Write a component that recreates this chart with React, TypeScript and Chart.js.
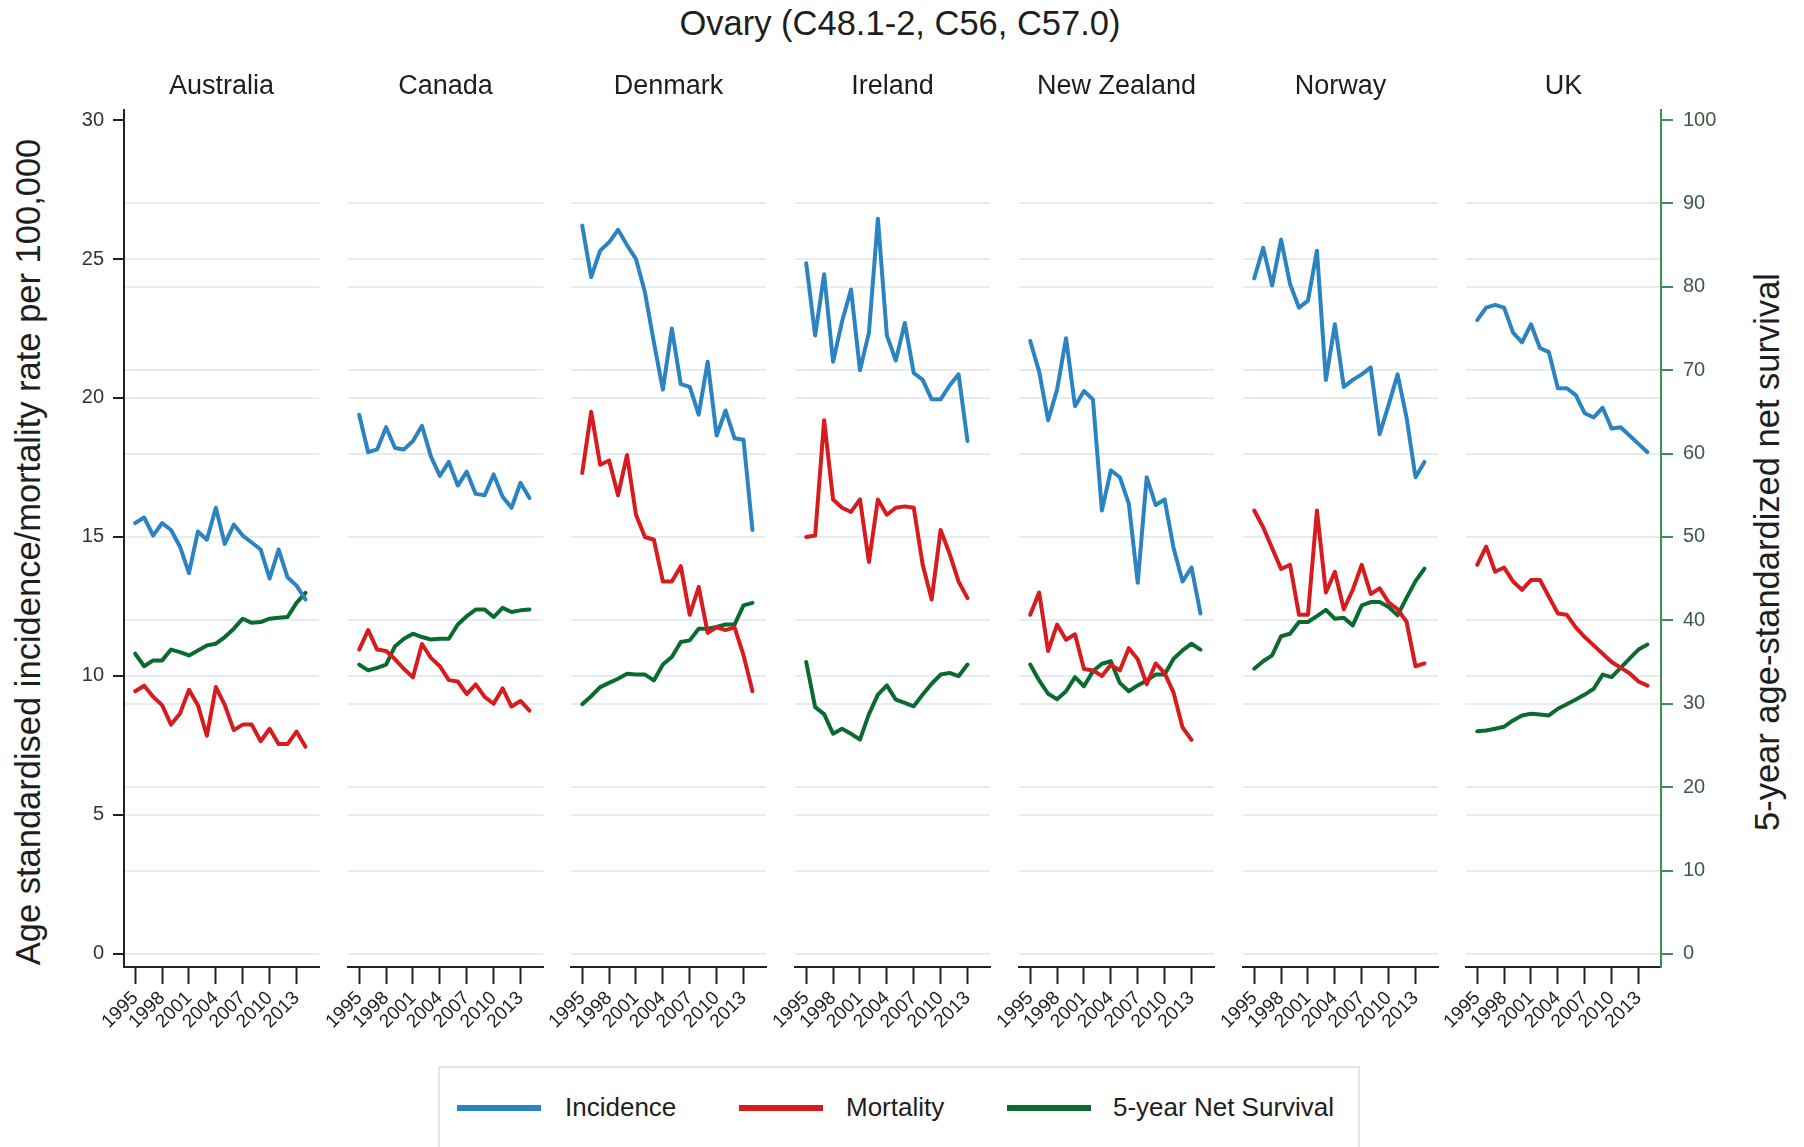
import React, { useEffect, useRef } from 'react';
import { Chart, registerables } from 'chart.js';

Chart.register(...registerables);

const FONT = '"Liberation Sans", Arial, Helvetica, sans-serif';

// ---------- data ----------
const years = [1995, 1996, 1997, 1998, 1999, 2000, 2001, 2002, 2003, 2004, 2005, 2006, 2007, 2008, 2009, 2010, 2011, 2012, 2013, 2014];
const xTickYears = [1995, 1998, 2001, 2004, 2007, 2010, 2013];
const rateTicks = [0, 5, 10, 15, 20, 25, 30];
const survivalTicks = [0, 10, 20, 30, 40, 50, 60, 70, 80, 90, 100];
const countries = ['Australia', 'Canada', 'Denmark', 'Ireland', 'New Zealand', 'Norway', 'UK'];

const ausInc = [15.5, 15.7, 15.05, 15.5, 15.25, 14.65, 13.7, 15.2, 14.9, 16.05, 14.75, 15.45, 15.05, 14.8, 14.55, 13.5, 14.55, 13.55, 13.25, 12.75];
const ausMort = [9.45, 9.65, 9.25, 8.95, 8.25, 8.65, 9.5, 8.95, 7.85, 9.6, 8.95, 8.05, 8.25, 8.25, 7.65, 8.1, 7.55, 7.55, 8.0, 7.45];
const ausSurv = [36.0, 34.5, 35.2, 35.2, 36.5, 36.2, 35.8, 36.4, 37.0, 37.2, 38.0, 39.0, 40.2, 39.7, 39.8, 40.2, 40.3, 40.4, 42.1, 43.3];

const canInc = [19.4, 18.05, 18.15, 18.95, 18.2, 18.15, 18.45, 19.0, 17.9, 17.2, 17.7, 16.85, 17.35, 16.55, 16.5, 17.25, 16.45, 16.05, 16.95, 16.4];
const canMort = [10.95, 11.65, 10.95, 10.9, 10.6, 10.25, 9.95, 11.15, 10.65, 10.35, 9.85, 9.8, 9.35, 9.7, 9.25, 9.0, 9.55, 8.9, 9.1, 8.75];
const canSurv = [34.7, 34.0, 34.3, 34.7, 36.9, 37.8, 38.4, 38.0, 37.7, 37.8, 37.8, 39.5, 40.5, 41.3, 41.3, 40.4, 41.5, 41.0, 41.2, 41.3];

const denInc = [26.2, 24.35, 25.3, 25.6, 26.05, 25.5, 25.0, 23.8, 22.0, 20.3, 22.5, 20.5, 20.4, 19.4, 21.3, 18.65, 19.55, 18.55, 18.5, 15.25];
const denMort = [17.3, 19.5, 17.6, 17.75, 16.5, 17.95, 15.8, 15.0, 14.9, 13.4, 13.4, 13.95, 12.2, 13.2, 11.55, 11.75, 11.65, 11.75, 10.75, 9.45];
const denSurv = [29.95, 30.9, 32.0, 32.5, 33.0, 33.6, 33.5, 33.5, 32.8, 34.7, 35.6, 37.4, 37.6, 39.0, 39.0, 39.2, 39.5, 39.5, 41.8, 42.1];

const ireInc = [24.85, 22.25, 24.45, 21.3, 22.75, 23.9, 21.0, 22.35, 26.45, 22.25, 21.35, 22.7, 20.9, 20.65, 19.95, 19.95, 20.45, 20.85, 18.45];
const ireMort = [15.0, 15.05, 19.2, 16.35, 16.05, 15.9, 16.35, 14.1, 16.35, 15.8, 16.05, 16.1, 16.05, 14.0, 12.75, 15.25, 14.4, 13.4, 12.8];
const ireSurv = [35.0, 29.6, 28.75, 26.4, 27.0, 26.4, 25.7, 28.75, 31.1, 32.2, 30.5, 30.1, 29.7, 31.1, 32.4, 33.5, 33.7, 33.3, 34.7];

const nzInc = [22.05, 20.95, 19.2, 20.3, 22.15, 19.7, 20.25, 19.95, 15.95, 17.4, 17.15, 16.2, 13.35, 17.15, 16.15, 16.35, 14.6, 13.4, 13.9, 12.25];
const nzMort = [12.2, 13.0, 10.9, 11.85, 11.3, 11.5, 10.25, 10.2, 10.0, 10.4, 10.2, 11.0, 10.6, 9.7, 10.45, 10.1, 9.4, 8.15, 7.7];
const nzSurv = [34.7, 32.8, 31.2, 30.55, 31.5, 33.2, 32.1, 33.9, 34.8, 35.1, 32.5, 31.5, 32.2, 32.8, 33.5, 33.5, 35.4, 36.4, 37.2, 36.5];

const norInc = [24.3, 25.4, 24.05, 25.7, 24.1, 23.25, 23.5, 25.3, 20.65, 22.65, 20.4, 20.65, 20.85, 21.1, 18.7, 19.75, 20.85, 19.3, 17.15, 17.7];
const norMort = [15.95, 15.35, 14.6, 13.85, 14.0, 12.2, 12.2, 15.95, 13.0, 13.75, 12.4, 13.1, 14.0, 12.95, 13.15, 12.65, 12.4, 11.95, 10.35, 10.45];
const norSurv = [34.2, 35.1, 35.8, 38.1, 38.4, 39.8, 39.8, 40.5, 41.25, 40.2, 40.3, 39.4, 41.8, 42.2, 42.2, 41.6, 40.6, 42.7, 44.7, 46.2];

const ukInc = [22.8, 23.25, 23.35, 23.25, 22.35, 22.0, 22.65, 21.8, 21.65, 20.35, 20.35, 20.1, 19.45, 19.3, 19.65, 18.9, 18.95, 18.65, 18.35, 18.05];
const ukMort = [14.0, 14.65, 13.75, 13.9, 13.4, 13.1, 13.45, 13.45, 12.85, 12.25, 12.2, 11.75, 11.4, 11.1, 10.8, 10.5, 10.3, 10.1, 9.8, 9.65];
const ukSurv = [26.7, 26.8, 27.0, 27.25, 28.0, 28.6, 28.8, 28.7, 28.6, 29.4, 29.95, 30.5, 31.1, 31.8, 33.5, 33.2, 34.3, 35.4, 36.5, 37.1];

const incidence = [ausInc, canInc, denInc, ireInc, nzInc, norInc, ukInc];
const mortality = [ausMort, canMort, denMort, ireMort, nzMort, norMort, ukMort];
const survival = [ausSurv, canSurv, denSurv, ireSurv, nzSurv, norSurv, ukSurv];

// ---------- style ----------
const BLUE = '#2b83c1';
const RED = '#d81b1f';
const GREEN = '#0a6b30';
const AXIS_GREEN = '#3c8f55';
const GRID = '#e6edf0';
const TEXT = '#1e1e1e';

const PANEL_LEFT = [124, 348, 571, 795, 1019, 1243, 1466];
const PANEL_W = 195;
const CANVAS_H = 1060;
const X_MIN = 1993.75;
const X_MAX = 2015.51;
const Y_MIN = -0.47;
const Y_MAX = 30.36;

const toXY = (vals: number[]) => vals.map((v, i) => ({ x: years[i], y: v }));

function Panel({ idx }: { idx: number }) {
  const ref = useRef<HTMLCanvasElement | null>(null);
  const first = idx === 0;
  const last = idx === countries.length - 1;
  const leftW = first ? 124 : 30;
  const rightW = last ? 130 : 10;
  const left = PANEL_LEFT[idx] - leftW;
  const width = leftW + PANEL_W + rightW;

  useEffect(() => {
    if (!ref.current) return;
    const chart = new Chart(ref.current, {
      type: 'line',
      data: {
        datasets: [
          { label: 'Incidence', data: toXY(incidence[idx]), borderColor: BLUE, backgroundColor: BLUE, yAxisID: 'y' },
          { label: 'Mortality', data: toXY(mortality[idx]), borderColor: RED, backgroundColor: RED, yAxisID: 'y' },
          { label: '5-year Net Survival', data: toXY(survival[idx]), borderColor: GREEN, backgroundColor: GREEN, yAxisID: 'y1' },
        ],
      },
      options: {
        animation: false,
        responsive: false,
        devicePixelRatio: 1,
        layout: { padding: 0 },
        elements: {
          point: { radius: 0, hoverRadius: 0 },
          line: { borderWidth: 4, tension: 0, borderCapStyle: 'round', borderJoinStyle: 'round' },
        },
        plugins: {
          legend: { display: false },
          tooltip: { enabled: false },
          title: {
            display: true,
            text: countries[idx],
            fullSize: false,
            color: TEXT,
            font: { family: FONT, size: 27, weight: 'normal', lineHeight: 1.2 },
            padding: { top: 70.3, bottom: 7.3 },
          },
        },
        scales: {
          x: {
            type: 'linear',
            position: 'bottom',
            min: X_MIN,
            max: X_MAX,
            afterBuildTicks: (s: any) => {
              s.ticks = xTickYears.map((v) => ({ value: v }));
            },
            afterFit: (s: any) => {
              s.height = 93;
            },
            ticks: {
              autoSkip: false,
              minRotation: 45,
              maxRotation: 45,
              padding: 3,
              color: '#222',
              font: { family: FONT, size: 19 },
              callback: (v: any) => String(v),
            },
            grid: {
              display: true,
              drawOnChartArea: false,
              drawTicks: true,
              tickLength: 17,
              tickColor: '#222',
              tickWidth: 2,
            },
            border: { display: true, color: '#222', width: 2 },
          },
          y: {
            type: 'linear',
            position: 'left',
            min: Y_MIN,
            max: Y_MAX,
            afterBuildTicks: (s: any) => {
              s.ticks = rateTicks.map((v) => ({ value: v }));
            },
            afterFit: (s: any) => {
              s.width = leftW;
            },
            ticks: {
              display: first,
              padding: 9,
              color: '#333',
              font: { family: FONT, size: 20 },
              callback: (v: any) => String(v),
            },
            grid: {
              display: true,
              drawOnChartArea: true,
              drawTicks: first,
              tickLength: 11,
              tickColor: '#222',
              tickWidth: 2,
              lineWidth: 2,
              color: (c: any) => (c.tick && c.tick.value === 30 ? 'rgba(0,0,0,0)' : GRID),
            },
            border: { display: first, color: '#222', width: 2 },
          },
          y1: {
            type: 'linear',
            position: 'right',
            min: (Y_MIN * 10) / 3,
            max: (Y_MAX * 10) / 3,
            afterBuildTicks: (s: any) => {
              s.ticks = survivalTicks.map((v) => ({ value: v }));
            },
            afterFit: (s: any) => {
              s.width = rightW;
            },
            ticks: {
              display: last,
              padding: 10,
              color: '#3d5a45',
              font: { family: FONT, size: 20 },
              callback: (v: any) => String(v),
            },
            grid: {
              display: true,
              drawOnChartArea: true,
              drawTicks: last,
              tickLength: 12,
              tickColor: AXIS_GREEN,
              tickWidth: 2,
              lineWidth: 2,
              color: (c: any) => (c.tick && c.tick.value === 100 ? 'rgba(0,0,0,0)' : GRID),
            },
            border: { display: last, color: AXIS_GREEN, width: 2 },
          },
        },
      } as any,
    });
    return () => chart.destroy();
  }, [idx]);

  return (
    <canvas
      ref={ref}
      width={width}
      height={CANVAS_H}
      style={{ position: 'absolute', left, top: 0, width, height: CANVAS_H, display: 'block' }}
    />
  );
}

const legendItems = [
  { label: 'Incidence', color: BLUE, lineLeft: 457, textLeft: 565 },
  { label: 'Mortality', color: RED, lineLeft: 739, textLeft: 846 },
  { label: '5-year Net Survival', color: GREEN, lineLeft: 1007, textLeft: 1113 },
];

export default function App() {
  useEffect(() => {
    document.body.style.margin = '0';
  }, []);
  const textBase: React.CSSProperties = {
    position: 'absolute',
    fontFamily: FONT,
    color: TEXT,
    whiteSpace: 'nowrap',
    lineHeight: 1.15,
  };
  return (
    <div style={{ position: 'absolute', left: 0, top: 0, width: 1804, height: 1147, background: '#fff', overflow: 'hidden' }}>
      <div style={{ ...textBase, left: 900, top: 24, fontSize: 34.5, transform: 'translate(-50%, -50%)' }}>
        Ovary (C48.1-2, C56, C57.0)
      </div>
      <div style={{ ...textBase, left: 29, top: 552, fontSize: 34.5, transform: 'translate(-50%, -50%) rotate(-90deg)' }}>
        Age standardised incidence/mortality rate per 100,000
      </div>
      <div style={{ ...textBase, left: 1768, top: 552, fontSize: 34.5, transform: 'translate(-50%, -50%) rotate(-90deg)' }}>
        5-year age-standardized net survival
      </div>
      {countries.map((c, i) => (
        <Panel key={c} idx={i} />
      ))}
      <div
        style={{
          position: 'absolute',
          left: 438,
          top: 1066,
          width: 922,
          height: 120,
          border: '2px solid #e4e7ea',
          boxSizing: 'border-box',
        }}
      />
      {legendItems.map((it) => (
        <React.Fragment key={it.label}>
          <div style={{ position: 'absolute', left: it.lineLeft, top: 1105, width: 84, height: 6, background: it.color }} />
          <div style={{ ...textBase, left: it.textLeft, top: 1108, fontSize: 26, transform: 'translateY(-50%)' }}>{it.label}</div>
        </React.Fragment>
      ))}
    </div>
  );
}
